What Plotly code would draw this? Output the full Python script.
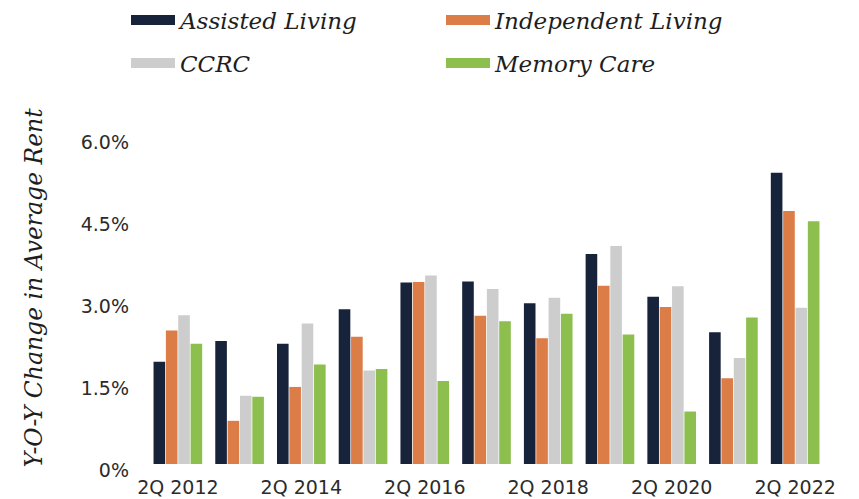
import plotly.graph_objects as go

categories = ["2Q 2012", "2Q 2013", "2Q 2014", "2Q 2015", "2Q 2016", "2Q 2017",
              "2Q 2018", "2Q 2019", "2Q 2020", "2Q 2021", "2Q 2022"]
assisted_living = [1.87, 2.25, 2.20, 2.83, 3.32, 3.34, 2.94, 3.84, 3.06, 2.41, 5.33]
independent_living = [2.44, 0.79, 1.41, 2.33, 3.33, 2.71, 2.30, 3.26, 2.87, 1.57, 4.63]
ccrc = [2.72, 1.25, 2.57, 1.71, 3.45, 3.20, 3.04, 3.99, 3.25, 1.94, 2.86]
memory_care = [2.20, 1.23, 1.82, 1.74, 1.52, 2.61, 2.75, 2.37, 0.96, 2.68, 4.44]

series_names = ["Assisted Living", "Independent Living", "CCRC", "Memory Care"]
series_colors = ["#17223b", "#dc7c47", "#cdcdcd", "#8dbf4f"]
series_legend = ["legend", "legend", "legend2", "legend2"]

y_tick_values = [0, 1.5, 3.0, 4.5, 6.0]
y_tick_labels = ["0%", "1.5%", "3.0%", "4.5%", "6.0%"]
x_tick_values = ["2Q 2012", "2Q 2014", "2Q 2016", "2Q 2018", "2Q 2020", "2Q 2022"]
y_title = "Y-O-Y Change in Average Rent"

series_values = [assisted_living, independent_living, ccrc, memory_care]

W, H = 859, 499
ML, MR, MT, MB = 139, 41, 128, 43

fig = go.Figure()
for name, vals, col in zip(series_names, series_values, series_colors):
    fig.add_trace(go.Bar(x=categories, y=vals, name=name, marker=dict(color=col, line=dict(width=0)),
                         showlegend=False))
# legend proxies (rectangular swatches)
for name, col, lg in zip(series_names, series_colors, series_legend):
    fig.add_trace(go.Scatter(x=[None], y=[None], mode="lines", name=name,
                             line=dict(color=col, width=10), legend=lg, showlegend=True))

legend_font = dict(family="DejaVu Serif", size=23, style="italic", color="#1e1e1e")
plot_w = W - ML - MR
plot_h = H - MT - MB
fig.update_layout(
    width=W, height=H,
    margin=dict(l=ML, r=MR, t=MT, b=MB, autoexpand=False),
    paper_bgcolor="white", plot_bgcolor="white",
    barmode="group", bargap=0.2, bargroupgap=0.06,
    legend=dict(orientation="h", xref="container", yref="container",
                x=118 / W, y=1 - 12 / H, xanchor="left", yanchor="middle",
                entrywidth=256, itemwidth=44, font=legend_font, bgcolor="rgba(0,0,0,0)"),
    legend2=dict(orientation="h", xref="container", yref="container",
                 x=118 / W, y=1 - 55 / H, xanchor="left", yanchor="middle",
                 entrywidth=256, itemwidth=44, font=legend_font, bgcolor="rgba(0,0,0,0)"),
    xaxis=dict(type="category", tickvals=x_tick_values, ticktext=x_tick_values,
               showgrid=False, zeroline=False, showline=False, ticks="", automargin=False,
               ticklabelstandoff=10,
               tickfont=dict(family="DejaVu Sans", size=19, color="#2b2b2b")),
    yaxis=dict(range=[0, 6], tickvals=y_tick_values, ticktext=y_tick_labels,
               showgrid=False, zeroline=False, showline=False, ticks="", automargin=False,
               ticklabelshift=6, ticklabelstandoff=17,
               tickfont=dict(family="DejaVu Sans", size=19, color="#2b2b2b")),
    annotations=[dict(text=y_title, textangle=-90, showarrow=False,
                      xref="paper", yref="paper",
                      x=(25 - ML) / plot_w, y=(H - MB - 279.5) / plot_h,
                      xanchor="center", yanchor="middle",
                      font=dict(family="DejaVu Serif", size=23.5, style="italic", color="#1e1e1e"))],
)

fig.write_html("out.html")
